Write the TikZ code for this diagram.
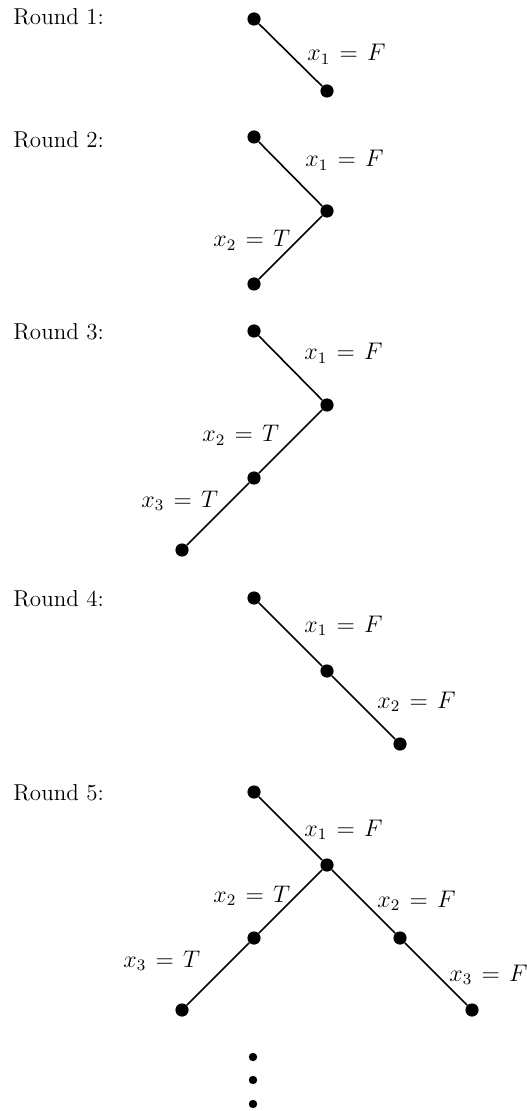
\documentclass[tikz,border=0pt]{standalone}
\newcommand{\eqlab}[2]{$x_{#1}\mskip7mu{=}\mskip7mu #2$}
\begin{document}
\begin{tikzpicture}[x=0.5pt,y=-0.5pt,
  vtx/.style={circle,fill=black,inner sep=0pt,minimum size=6.6pt},
  dotv/.style={circle,fill=black,inner sep=0pt,minimum size=4.2pt},
  edge/.style={line width=0.8pt},
  lbl/.style={anchor=base west,inner sep=0pt,font=\fontsize{11.5}{13}\selectfont},
  rnd/.style={anchor=base west,inner sep=0pt,font=\fontsize{11.5}{13}\selectfont}]
\useasboundingbox (0,0) rectangle (526,1111);
% Round labels
\node[rnd] (r1) at (13,25) {Round 1:};
\node[rnd] (r2) at (13,148) {Round 2:};
\node[rnd] (r3) at (13,340) {Round 3:};
\node[rnd] (r4) at (13,606) {Round 4:};
\node[rnd] (r5) at (13,800) {Round 5:};
% Round 1
\node[vtx] (a1) at (254,19) {};
\node[vtx] (a2) at (327,91) {};
\draw[edge] (a1) -- (a2);
\node[lbl] (la1) at (307,61) {\eqlab{1}{F}};
% Round 2
\node[vtx] (b1) at (254,137) {};
\node[vtx] (b2) at (327,211) {};
\node[vtx] (b3) at (254,284) {};
\draw[edge] (b1) -- (b2) -- (b3);
\node[lbl] (lb1) at (305,167) {\eqlab{1}{F}};
\node[lbl] (lb2) at (213,247) {\eqlab{2}{T}};
% Round 3
\node[vtx] (c1) at (254,331) {};
\node[vtx] (c2) at (327,405) {};
\node[vtx] (c3) at (254,478) {};
\node[vtx] (c4) at (182,550) {};
\draw[edge] (c1) -- (c2) -- (c3) -- (c4);
\node[lbl] (lc1) at (304,360) {\eqlab{1}{F}};
\node[lbl] (lc2) at (202,442) {\eqlab{2}{T}};
\node[lbl] (lc3) at (141,507) {\eqlab{3}{T}};
% Round 4
\node[vtx] (d1) at (254,598) {};
\node[vtx] (d2) at (327,671) {};
\node[vtx] (d3) at (400,744) {};
\draw[edge] (d1) -- (d2) -- (d3);
\node[lbl] (ld1) at (304,632) {\eqlab{1}{F}};
\node[lbl] (ld2) at (377,708) {\eqlab{2}{F}};
% Round 5
\node[vtx] (e1) at (254,792) {};
\node[vtx] (e2) at (327,865) {};
\node[vtx] (e3) at (254,938) {};
\node[vtx] (e4) at (400,938) {};
\node[vtx] (e5) at (182,1010) {};
\node[vtx] (e6) at (472,1010) {};
\draw[edge] (e1) -- (e2);
\draw[edge] (e2) -- (e3) -- (e5);
\draw[edge] (e2) -- (e4) -- (e6);
\node[lbl] (le1) at (304,836) {\eqlab{1}{F}};
\node[lbl] (le2) at (213,902) {\eqlab{2}{T}};
\node[lbl] (le3) at (377,907) {\eqlab{2}{F}};
\node[lbl] (le4) at (123,967) {\eqlab{3}{T}};
\node[lbl] (le5) at (449,981) {\eqlab{3}{F}};
% vertical dots
\node[dotv] (v1) at (253,1057) {};
\node[dotv] (v2) at (253,1080) {};
\node[dotv] (v3) at (253,1104) {};
\end{tikzpicture}
\end{document}
